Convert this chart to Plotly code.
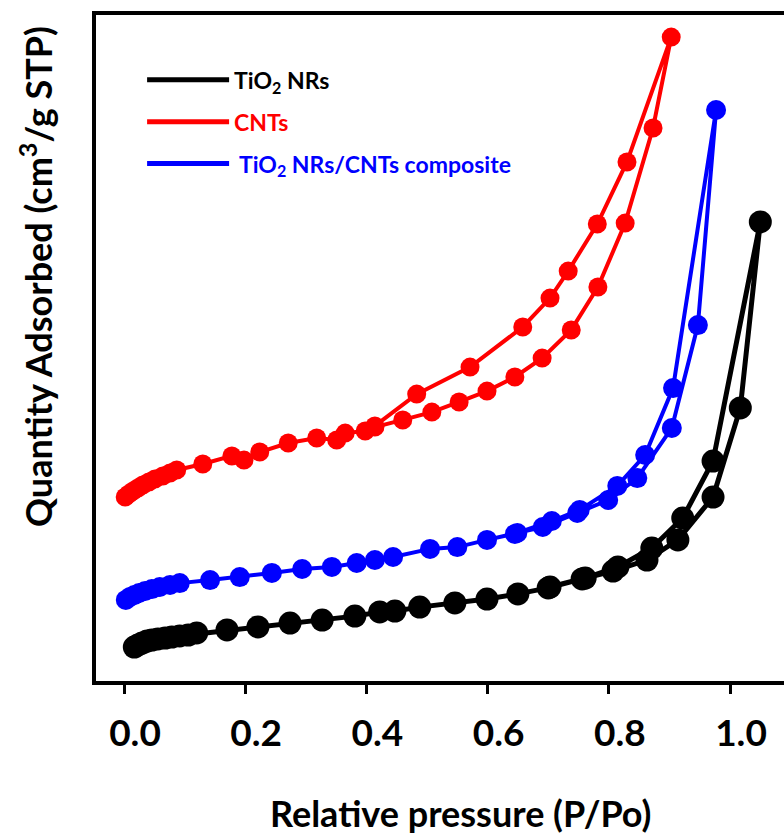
import plotly.graph_objects as go

# ---- data (P/Po, quantity adsorbed in arbitrary units) ----
tio2_ads_x = [0.017, 0.023, 0.030, 0.038, 0.046, 0.056, 0.068, 0.079, 0.092, 0.106, 0.120,
              0.170, 0.221, 0.274, 0.327, 0.381, 0.422, 0.447, 0.488, 0.546, 0.599, 0.650,
              0.700, 0.756, 0.807, 0.863, 0.914, 0.972, 1.017, 1.050]
tio2_ads_y = [12.0, 12.7, 13.3, 14.0, 14.3, 14.7, 15.0, 15.3, 15.7, 16.0, 16.7,
              17.7, 18.7, 20.0, 21.0, 22.3, 23.7, 24.0, 25.3, 26.7, 28.0, 29.7,
              31.7, 34.7, 37.3, 41.0, 47.7, 62.0, 91.7, 153.7]
tio2_des_x = [0.972, 0.922, 0.871, 0.815, 0.761, 0.703]
tio2_des_y = [74.0, 55.0, 45.0, 38.7, 35.0, 32.0]

cnt_ads_x = [0.002, 0.008, 0.015, 0.023, 0.031, 0.041, 0.051, 0.064, 0.076, 0.087, 0.130,
             0.178, 0.198, 0.224, 0.271, 0.318, 0.351, 0.365, 0.398, 0.414, 0.460, 0.508,
             0.553, 0.599, 0.645, 0.690, 0.738, 0.782, 0.827, 0.873, 0.903]
cnt_ads_y = [62.0, 63.0, 64.0, 65.0, 66.0, 67.0, 68.0, 69.0, 70.0, 71.0, 73.0,
             75.7, 74.3, 77.0, 80.0, 81.7, 81.0, 83.3, 84.0, 85.3, 87.7, 90.3,
             93.7, 97.3, 102.0, 108.3, 117.7, 132.0, 153.3, 185.0, 215.3]
cnt_des_x = [0.830, 0.781, 0.733, 0.703, 0.658, 0.571, 0.483, 0.414]
cnt_des_y = [173.7, 153.0, 137.3, 128.3, 118.7, 105.3, 96.3, 85.7]

comp_ads_x = [0.003, 0.010, 0.017, 0.025, 0.035, 0.046, 0.059, 0.076, 0.092, 0.142, 0.191,
              0.244, 0.294, 0.343, 0.384, 0.414, 0.444, 0.505, 0.550, 0.599, 0.645, 0.691,
              0.748, 0.799, 0.847, 0.904, 0.947, 0.977]
comp_ads_y = [27.7, 28.7, 29.3, 30.0, 30.7, 31.3, 32.0, 32.7, 33.3, 34.3, 35.3,
              36.7, 38.0, 38.7, 40.0, 41.0, 42.0, 44.7, 45.3, 47.7, 49.7, 52.0,
              56.7, 61.0, 68.3, 85.0, 119.3, 191.0]
comp_des_x = [0.906, 0.860, 0.814, 0.752, 0.706, 0.649]
comp_des_y = [98.3, 76.0, 65.7, 57.7, 54.0, 50.0]

x_ticks = [0.0, 0.2, 0.4, 0.6, 0.8, 1.0]
x_tick_labels = ["0.0", "0.2", "0.4", "0.6", "0.8", "1.0"]

series = [
    ("TiO<sub>2</sub> NRs", "#000000", tio2_ads_x + tio2_des_x, tio2_ads_y + tio2_des_y, 23, 5),
    ("CNTs", "#ff0000", cnt_ads_x + cnt_des_x, cnt_ads_y + cnt_des_y, 19, 4),
    (" TiO<sub>2</sub> NRs/CNTs composite", "#0000ff", comp_ads_x + comp_des_x, comp_ads_y + comp_des_y, 20, 4),
]

FONT = "Lato, 'Open Sans', sans-serif"

fig = go.Figure()
for i, (name, color, xs, ys, msize, lw) in enumerate(series):
    fig.add_trace(go.Scatter(
        x=xs, y=ys, mode="lines+markers", showlegend=False,
        line=dict(color=color, width=lw),
        marker=dict(color=color, size=msize, line=dict(width=0)),
    ))
for i, (name, color, xs, ys, msize, lw) in enumerate(series):
    fig.add_trace(go.Scatter(
        x=[None], y=[None], mode="lines", legendgroup=str(i),
        name=f'<span style="color:{color}">{name}</span>',
        line=dict(color=color, width=5),
    ))

fig.update_layout(
    width=784, height=835,
    margin=dict(l=96, r=0, t=15, b=154),
    plot_bgcolor="white", paper_bgcolor="white",
    font=dict(family=FONT, color="black"),
    legend=dict(
        x=0.067, y=0.935, xanchor="left", yanchor="top",
        bgcolor="rgba(0,0,0,0)", itemwidth=82, tracegroupgap=9,
        font=dict(family=FONT, size=23, weight="bold"),
        traceorder="grouped",
    ),
    xaxis=dict(
        range=[-0.0462, 1.0891], tickvals=x_ticks, ticktext=x_tick_labels,
        showgrid=False, zeroline=False,
        showline=True, linecolor="black", linewidth=4, mirror=True,
        ticks="outside", ticklen=9, tickwidth=3, tickcolor="black",
        ticklabelshift=11, ticklabelstandoff=8,
        tickfont=dict(family=FONT, size=37, weight="bold", color="black"),
    ),
    yaxis=dict(
        range=[0.67, 222.67], showticklabels=False, ticks="",
        showgrid=False, zeroline=False,
        showline=True, linecolor="black", linewidth=4, mirror=False,
    ),
    annotations=[
        dict(text="Relative pressure (P/Po)", xref="paper", yref="paper",
             x=(460 - 96) / 688, y=-(813 - 681) / 666, xanchor="center", yanchor="middle",
             showarrow=False, font=dict(family=FONT, size=36, weight="bold", color="black")),
        dict(text="Quantity Adsorbed (cm<sup>3</sup>/g STP)", xref="paper", yref="paper",
             x=-(96 - 36) / 688, y=(681 - 277) / 666, xanchor="center", yanchor="middle",
             textangle=-90, showarrow=False,
             font=dict(family=FONT, size=36, weight="bold", color="black")),
    ],
)

fig.write_html("out.html", config={"displayModeBar": False},
               post_script="document.body.style.margin='0';")
